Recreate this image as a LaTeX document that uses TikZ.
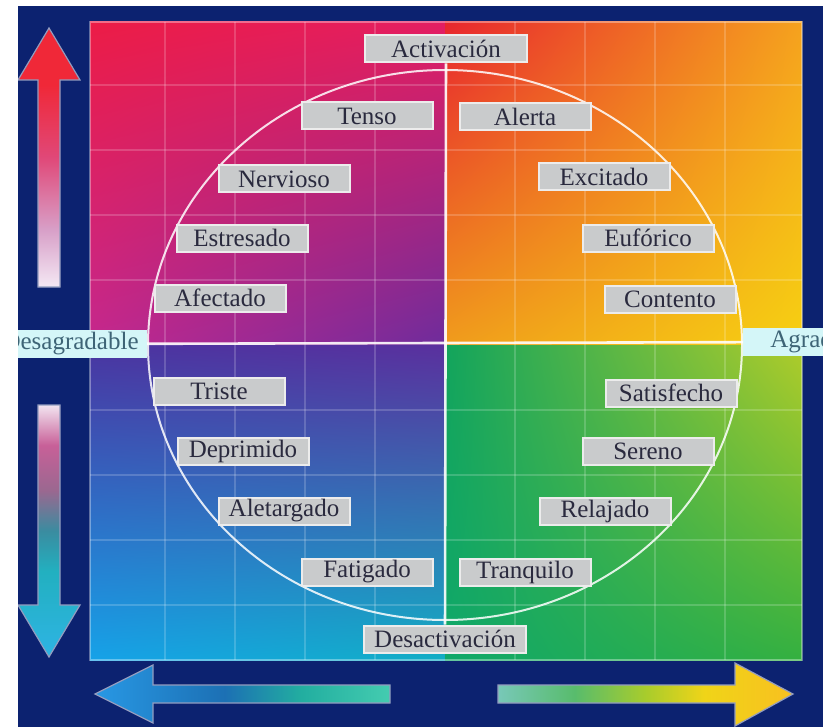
\documentclass[tikz,border=0pt]{standalone}
\usepackage{fontspec}
\setmainfont{Liberation Serif}
\usepackage{tikz}
\usetikzlibrary{shadings}

\definecolor{fondo}{HTML}{0C2270}
\definecolor{caja}{HTML}{C9CBCC}
\definecolor{texto}{HTML}{2A2A3E}
\definecolor{lado}{HTML}{D4F6F8}
\definecolor{ladotexto}{HTML}{3E6476}

\definecolor{tiA}{HTML}{EC1C46}
\definecolor{tiB}{HTML}{E41E62}
\definecolor{tiC}{HTML}{C4288E}
\definecolor{tiD}{HTML}{6E2C9C}
\definecolor{tdA}{HTML}{E8262E}
\definecolor{tdB}{HTML}{F5A21E}
\definecolor{tdC}{HTML}{F09C1C}
\definecolor{tdD}{HTML}{F6D012}
\definecolor{biA}{HTML}{4A34A0}
\definecolor{biB}{HTML}{5A309E}
\definecolor{biC}{HTML}{16A2E8}
\definecolor{biD}{HTML}{12AEC4}
\definecolor{bdA}{HTML}{12A45C}
\definecolor{bdB}{HTML}{B0CC2A}
\definecolor{bdC}{HTML}{10A86A}
\definecolor{bdD}{HTML}{34B040}

\definecolor{fa1}{HTML}{F4E8F4}
\definecolor{fa2}{HTML}{D8A0C8}
\definecolor{fa3}{HTML}{E04878}
\definecolor{fa4}{HTML}{F02838}
\definecolor{fb1}{HTML}{2EB4E4}
\definecolor{fb2}{HTML}{22B0C0}
\definecolor{fb3}{HTML}{3A8CA0}
\definecolor{fb4}{HTML}{9A6890}
\definecolor{fb5}{HTML}{C86098}
\definecolor{fb6}{HTML}{F2E4F0}
\definecolor{fc1}{HTML}{2898E4}
\definecolor{fc2}{HTML}{1C70B4}
\definecolor{fc3}{HTML}{22AEA0}
\definecolor{fc4}{HTML}{44CCB0}
\definecolor{fd1}{HTML}{78C8B8}
\definecolor{fd2}{HTML}{58BC6C}
\definecolor{fd3}{HTML}{A8CC2C}
\definecolor{fd4}{HTML}{F0D418}
\definecolor{fd5}{HTML}{F8C020}

\pgfdeclareverticalshading{flechaarriba}{100bp}{color(0bp)=(fa1); color(25bp)=(fa1); color(36bp)=(fa2); color(50bp)=(fa3); color(64bp)=(fa4); color(75bp)=(fa4); color(100bp)=(fa4)}
\pgfdeclareverticalshading{flechaabajo}{100bp}{color(0bp)=(fb1); color(25bp)=(fb1); color(42bp)=(fb2); color(50bp)=(fb3); color(58bp)=(fb4); color(67bp)=(fb5); color(75bp)=(fb6); color(100bp)=(fb6)}
\pgfdeclarehorizontalshading{flechaizq}{100bp}{color(0bp)=(fc1); color(25bp)=(fc1); color(47bp)=(fc2); color(60bp)=(fc3); color(75bp)=(fc4); color(100bp)=(fc4)}
\pgfdeclarehorizontalshading{flechader}{100bp}{color(0bp)=(fd1); color(25bp)=(fd1); color(38bp)=(fd2); color(50bp)=(fd3); color(60bp)=(fd4); color(75bp)=(fd5); color(100bp)=(fd5)}

\tikzset{
  etiqueta/.style={draw=white!85!gray, line width=1pt, fill=caja, text=texto,
    minimum width=65.5pt, minimum height=13.5pt, inner sep=0pt,
    font=\fontsize{12.5}{14}\selectfont},
  extremo/.style={etiqueta, minimum width=81pt},
  ladoeje/.style={fill=lado, text=ladotexto, minimum height=14pt, inner sep=0pt,
    font=\fontsize{12.5}{14}\selectfont},
  rejilla/.style={white, opacity=0.18, line width=1.2pt},
  flecha/.style={draw=white!55!fondo, line width=0.6pt}
}

\begin{document}
\begin{tikzpicture}[x=0.5pt,y=-0.5pt]
\useasboundingbox (0,0) rectangle (823,727);
\fill[white] (0,0) rectangle (823,727);
\begin{scope}
\clip (18,6) rectangle (823,727);
\fill[fondo] (18,6) rectangle (823,727);

\shade[upper left=tiA, upper right=tiB, lower left=tiC, lower right=tiD] (90,22) rectangle (445,345);
\shade[upper left=tdA, upper right=tdB, lower left=tdC, lower right=tdD] (445,22) rectangle (802,345);
\shade[upper left=biA, upper right=biB, lower left=biC, lower right=biD] (90,345) rectangle (445,660);
\shade[upper left=bdA, upper right=bdB, lower left=bdC, lower right=bdD] (445,345) rectangle (802,660);
\draw[white, opacity=0.35, line width=1pt] (90,22) rectangle (802,660);

\foreach \gx in {165,235,305,375,515,585,655,725}
  \draw[rejilla] (\gx,22) -- (\gx,660);
\foreach \gy in {85,150,215,280,410,475,540,605}
  \draw[rejilla] (90,\gy) -- (802,\gy);

\draw[white, opacity=0.85, line width=1pt] (445,345) ellipse [x radius=297, y radius=275];

\shadedraw[shading=flechaarriba, flecha] (38,287) -- (38,80) -- (18,80) -- (49,28) -- (80,80) -- (60,80) -- (60,287) -- cycle;
\shadedraw[shading=flechaabajo, flecha] (38,405) -- (38,605) -- (18,605) -- (49,657) -- (80,605) -- (60,605) -- (60,405) -- cycle;
\shadedraw[shading=flechaizq, flecha] (390,685) -- (153,685) -- (153,665) -- (95,694) -- (153,723) -- (153,703) -- (390,703) -- cycle;
\shadedraw[shading=flechader, flecha] (498,685) -- (735,685) -- (735,663) -- (793,694) -- (735,726) -- (735,703) -- (498,703) -- cycle;

\node[extremo] (activ) at (446,49) {Activación};
\node[extremo] (desact) at (445,639) {Desactivación};
\node[ladoeje, anchor=east, inner xsep=4pt] (desag) at (147,344) {Desagradable};
\node[ladoeje, anchor=west] (agrad) at (743,342) {\hspace{13.5pt}Agradable\hspace{4pt}};

\foreach \nm/\px/\py/\txt in {tenso/367/116/Tenso, nervioso/284/179/Nervioso,
    estresado/242/238/Estresado, afectado/220/298/Afectado,
    alerta/525/117/Alerta, excitado/604/177/Excitado,
    euforico/648/238/Eufórico, contento/670/299/Contento,
    triste/219/391/Triste, deprimido/243/451/Deprimido,
    aletargado/284/511/Aletargado, fatigado/367/572/Fatigado,
    satisfecho/671/393/Satisfecho, sereno/648/451/Sereno,
    relajado/605/511/Relajado, tranquilo/525/572/Tranquilo}
  \node[etiqueta] (\nm) at (\px,\py) {\txt};

\draw[white, opacity=0.9, line width=1.3pt] (activ) -- (desact);
\draw[white, opacity=0.9, line width=1.3pt] (desag) -- (agrad);
\end{scope}
\end{tikzpicture}
\end{document}
